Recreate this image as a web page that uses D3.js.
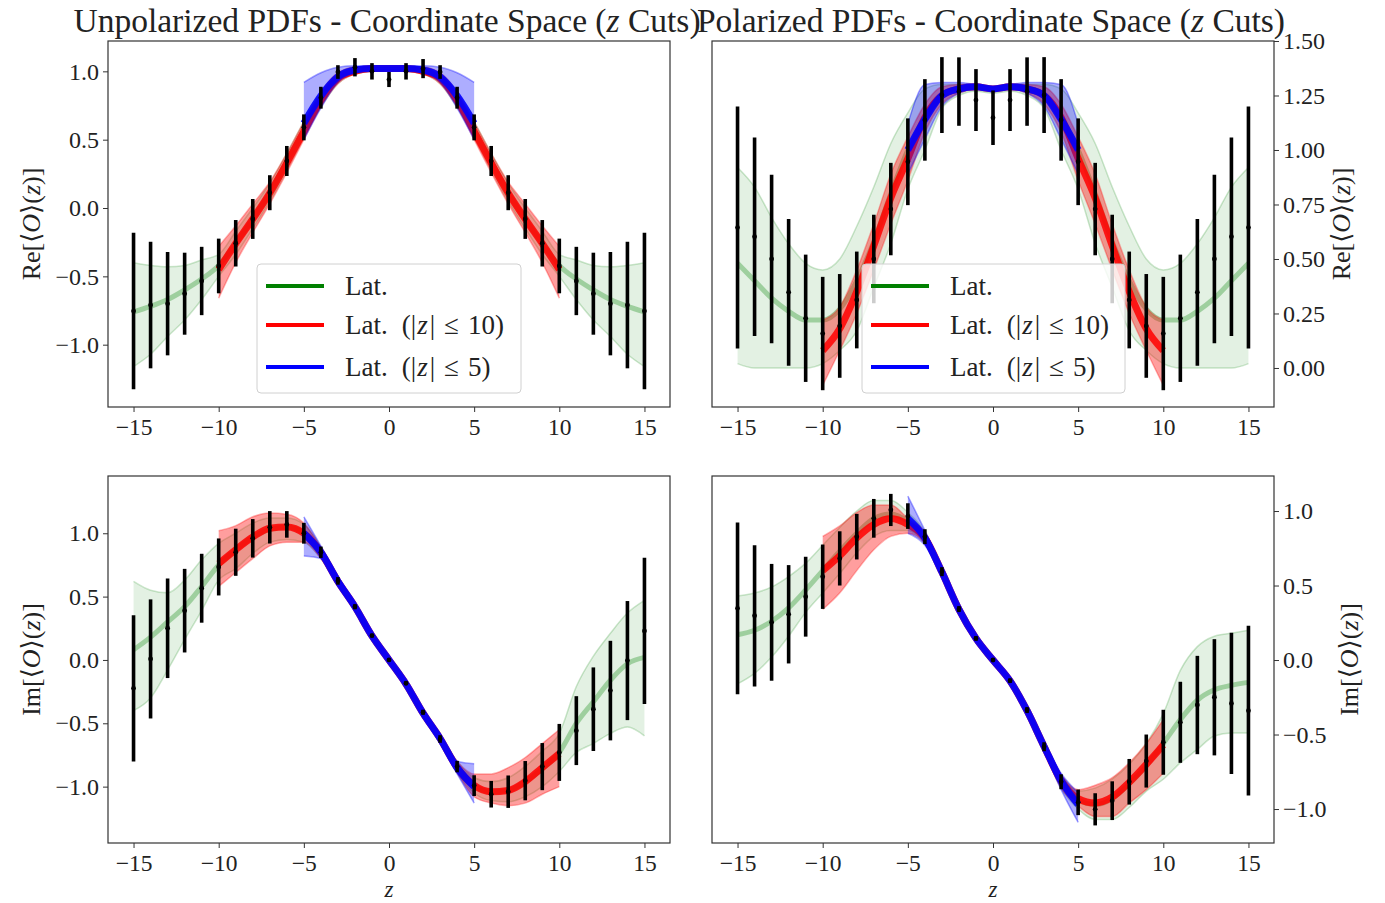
<!DOCTYPE html>
<html>
<head>
<meta charset="utf-8">
<script src="https://cdn.jsdelivr.net/npm/d3@7"></script>
<style>
  body { margin: 0; background: #fff; }
  svg { display: block; }
  text { font-family: "Liberation Serif", "DejaVu Serif", serif; fill: #222; }
</style>
</head>
<body>
<div id="chart"></div>
<script>
// z positions of the lattice points
const zVals = [-15, -14, -13, -12, -11, -10, -9, -8, -7, -6, -5, -4, -3, -2, -1, 0,
  1, 2, 3, 4, 5, 6, 7, 8, 9, 10, 11, 12, 13, 14, 15];
const xTicks = [-15, -10, -5, 0, 5, 10, 15];
const ticksUnit = [-1.0, -0.5, 0.0, 0.5, 1.0];
const ticksRePol = [0.0, 0.25, 0.5, 0.75, 1.0, 1.25, 1.5];

const titles = ['Unpolarized PDFs - Coordinate Space (', 'Polarized PDFs - Coordinate Space ('];
const legendNames = [['Lat.', ''], ['Lat.', '10'], ['Lat.', '5']];

// ---- Re, unpolarized: data points and errors
const reUnpolVal = [-0.754, -0.71, -0.70, -0.627, -0.534, -0.424, -0.258, -0.08, 0.112, 0.344, 0.59,
  0.807, 0.995, 1.03, 1.0, 0.94, 1.0, 1.02, 0.995, 0.807, 0.59, 0.344, 0.112, -0.08, -0.258,
  -0.424, -0.534, -0.627, -0.70, -0.71, -0.754];
const reUnpolErr = [0.573, 0.463, 0.378, 0.30, 0.25, 0.20, 0.17, 0.146, 0.128, 0.11, 0.095,
  0.08, 0.05, 0.067, 0.06, 0.055, 0.06, 0.07, 0.05, 0.08, 0.095, 0.11, 0.128, 0.146, 0.17,
  0.20, 0.25, 0.30, 0.378, 0.463, 0.573];
// bands: [low, middle, high] for each z
const reUnpolGreen = [[-1.16, -0.76, -0.40], [-1.07, -0.72, -0.42], [-0.94, -0.67, -0.43], [-0.82, -0.60, -0.42],
  [-0.67, -0.52, -0.38], [-0.50, -0.42, -0.34], [-0.34, -0.26, -0.17], [-0.15, -0.08, 0.0], [0.05, 0.11, 0.18],
  [0.28, 0.34, 0.40], [0.52, 0.57, 0.63], [0.74, 0.79, 0.84], [0.91, 0.95, 0.98], [0.98, 1.0, 1.03],
  [1.0, 1.02, 1.03], [1.0, 1.02, 1.03], [1.0, 1.02, 1.03], [0.98, 1.0, 1.03], [0.91, 0.95, 0.98],
  [0.74, 0.79, 0.84], [0.52, 0.57, 0.63], [0.28, 0.34, 0.40], [0.05, 0.11, 0.18], [-0.15, -0.08, 0.0],
  [-0.34, -0.26, -0.17], [-0.50, -0.42, -0.34], [-0.67, -0.52, -0.38], [-0.82, -0.60, -0.42],
  [-0.94, -0.67, -0.43], [-1.07, -0.72, -0.42], [-1.16, -0.76, -0.40]];
const reUnpolRed = [[-0.66, -0.45, -0.28], [-0.40, -0.26, -0.13], [-0.18, -0.08, 0.03], [0.03, 0.11, 0.19],
  [0.26, 0.33, 0.40], [0.50, 0.56, 0.63], [0.74, 0.79, 0.85], [0.91, 0.95, 0.99], [0.98, 1.0, 1.03],
  [1.0, 1.02, 1.03], [1.0, 1.02, 1.03], [1.0, 1.02, 1.03], [0.98, 1.0, 1.03], [0.91, 0.95, 0.99],
  [0.74, 0.79, 0.85], [0.50, 0.56, 0.63], [0.26, 0.33, 0.40], [0.03, 0.11, 0.19], [-0.18, -0.08, 0.03],
  [-0.40, -0.26, -0.13], [-0.66, -0.45, -0.28]];
const reUnpolBlue = [[0.50, 0.62, 0.92], [0.73, 0.82, 0.99], [0.92, 0.96, 1.03], [0.99, 1.01, 1.04],
  [1.01, 1.02, 1.03], [1.01, 1.02, 1.03], [1.01, 1.02, 1.03], [0.99, 1.01, 1.04], [0.92, 0.96, 1.03],
  [0.73, 0.82, 0.99], [0.50, 0.62, 0.92]];

// ---- Re, polarized
const rePolVal = [0.644, 0.602, 0.50, 0.347, 0.228, 0.158, 0.193, 0.312, 0.50, 0.729, 0.946,
  1.138, 1.252, 1.268, 1.229, 1.148, 1.229, 1.268, 1.252, 1.138, 0.946, 0.729, 0.50, 0.312, 0.193,
  0.158, 0.228, 0.347, 0.50, 0.602, 0.644];
const rePolErr = [0.555, 0.455, 0.387, 0.337, 0.292, 0.26, 0.238, 0.222, 0.203, 0.212, 0.199,
  0.187, 0.174, 0.157, 0.142, 0.125, 0.142, 0.157, 0.174, 0.187, 0.199, 0.212, 0.203, 0.222, 0.238,
  0.26, 0.292, 0.337, 0.387, 0.455, 0.555];
const rePolGreen = [[0.02, 0.48, 0.92], [0.0, 0.40, 0.83], [0.0, 0.32, 0.69], [0.0, 0.26, 0.57],
  [0.0, 0.22, 0.48], [0.02, 0.22, 0.45], [0.08, 0.27, 0.50], [0.17, 0.40, 0.65], [0.37, 0.58, 0.83],
  [0.57, 0.80, 1.03], [0.82, 1.00, 1.17], [1.00, 1.15, 1.28], [1.19, 1.25, 1.30], [1.25, 1.28, 1.30],
  [1.27, 1.29, 1.30], [1.26, 1.275, 1.29], [1.27, 1.29, 1.30], [1.25, 1.28, 1.30], [1.19, 1.25, 1.30],
  [1.00, 1.15, 1.28], [0.82, 1.00, 1.17], [0.57, 0.80, 1.03], [0.37, 0.58, 0.83], [0.17, 0.40, 0.65],
  [0.08, 0.27, 0.50], [0.02, 0.22, 0.45], [0.0, 0.22, 0.48], [0.0, 0.26, 0.57], [0.0, 0.32, 0.69],
  [0.0, 0.40, 0.83], [0.02, 0.48, 0.92]];
const rePolRed = [[-0.08, 0.08, 0.22], [0.08, 0.18, 0.28], [0.25, 0.35, 0.45], [0.45, 0.56, 0.66],
  [0.66, 0.78, 0.89], [0.86, 0.96, 1.06], [1.08, 1.15, 1.21], [1.21, 1.25, 1.29], [1.26, 1.28, 1.30],
  [1.28, 1.29, 1.30], [1.27, 1.28, 1.29], [1.28, 1.29, 1.30], [1.26, 1.28, 1.30], [1.21, 1.25, 1.29],
  [1.08, 1.15, 1.21], [0.86, 0.96, 1.06], [0.66, 0.78, 0.89], [0.45, 0.56, 0.66], [0.25, 0.35, 0.45],
  [0.08, 0.18, 0.28], [-0.08, 0.08, 0.22]];
const rePolBlue = [[0.89, 1.00, 1.12], [1.05, 1.14, 1.30], [1.20, 1.25, 1.31], [1.26, 1.28, 1.31],
  [1.28, 1.29, 1.30], [1.27, 1.28, 1.29], [1.28, 1.29, 1.30], [1.26, 1.28, 1.31], [1.20, 1.25, 1.31],
  [1.05, 1.14, 1.30], [0.89, 1.00, 1.12]];

// ---- Im, unpolarized
const imUnpolVal = [-0.224, 0.008, 0.25, 0.389, 0.566, 0.734, 0.85, 0.96, 1.047, 1.07, 1.0,
  0.85, 0.624, 0.42, 0.192, 0.0, -0.184, -0.413, -0.624, -0.842, -0.992, -1.06, -1.04, -0.953, -0.842,
  -0.73, -0.558, -0.389, -0.242, -0.005, 0.229];
const imUnpolErr = [0.577, 0.47, 0.393, 0.33, 0.272, 0.225, 0.186, 0.152, 0.128, 0.105, 0.082,
  0.045, 0.03, 0.02, 0.015, 0.01, 0.015, 0.02, 0.03, 0.045, 0.082, 0.105, 0.128, 0.155, 0.186,
  0.225, 0.272, 0.33, 0.393, 0.47, 0.577];
const imUnpolGreen = [[-0.40, 0.08, 0.62], [-0.30, 0.18, 0.55], [-0.08, 0.30, 0.53], [0.16, 0.42, 0.63],
  [0.39, 0.58, 0.79], [0.63, 0.75, 0.92], [0.72, 0.87, 1.0], [0.84, 0.97, 1.08], [0.93, 1.03, 1.12],
  [0.95, 1.05, 1.12], [0.93, 1.0, 1.07], [0.80, 0.85, 0.89], [0.59, 0.62, 0.65], [0.39, 0.42, 0.44],
  [0.17, 0.19, 0.21], [-0.02, 0.0, 0.02], [-0.21, -0.19, -0.17], [-0.44, -0.42, -0.39], [-0.65, -0.62, -0.59],
  [-0.89, -0.85, -0.80], [-1.05, -0.99, -0.93], [-1.11, -1.04, -0.96], [-1.12, -1.03, -0.93],
  [-1.08, -0.96, -0.84], [-1.0, -0.86, -0.72], [-0.88, -0.73, -0.58], [-0.73, -0.50, -0.21],
  [-0.66, -0.33, 0.03], [-0.58, -0.16, 0.21], [-0.53, -0.03, 0.37], [-0.60, 0.02, 0.47]];
const imUnpolRed = [[0.58, 0.76, 1.02], [0.69, 0.87, 1.06], [0.80, 0.97, 1.13], [0.90, 1.04, 1.16],
  [0.93, 1.05, 1.15], [0.93, 1.0, 1.08], [0.80, 0.85, 0.89], [0.59, 0.62, 0.65], [0.39, 0.42, 0.44],
  [0.17, 0.19, 0.21], [-0.02, 0.0, 0.02], [-0.21, -0.19, -0.17], [-0.44, -0.42, -0.39], [-0.65, -0.62, -0.59],
  [-0.89, -0.85, -0.80], [-1.08, -0.99, -0.90], [-1.13, -1.04, -0.90], [-1.15, -1.03, -0.85],
  [-1.13, -0.96, -0.77], [-1.06, -0.85, -0.66], [-1.0, -0.74, -0.55]];
const imUnpolBlue = [[0.82, 1.0, 1.13], [0.80, 0.85, 0.90], [0.59, 0.62, 0.66], [0.39, 0.42, 0.45],
  [0.17, 0.19, 0.21], [-0.02, 0.0, 0.02], [-0.21, -0.19, -0.17], [-0.45, -0.42, -0.39], [-0.66, -0.62, -0.59],
  [-0.90, -0.85, -0.80], [-1.13, -1.0, -0.82]];

// ---- Im, polarized
const imPolVal = [0.347, 0.297, 0.253, 0.307, 0.425, 0.559, 0.682, 0.828, 0.951, 1.007, 0.966,
  0.828, 0.593, 0.342, 0.145, 0.0, -0.139, -0.336, -0.582, -0.817, -0.955, -1.002, -0.944, -0.817, -0.678,
  -0.552, -0.418, -0.302, -0.25, -0.291, -0.34];
const imPolErr = [0.576, 0.474, 0.392, 0.33, 0.268, 0.216, 0.182, 0.153, 0.13, 0.108, 0.086,
  0.05, 0.03, 0.02, 0.015, 0.01, 0.015, 0.02, 0.03, 0.05, 0.086, 0.108, 0.13, 0.153, 0.178,
  0.218, 0.272, 0.33, 0.39, 0.474, 0.57];
const imPolGreen = [[-0.16, 0.17, 0.43], [-0.09, 0.20, 0.45], [0.02, 0.26, 0.49], [0.16, 0.35, 0.56],
  [0.32, 0.47, 0.65], [0.45, 0.60, 0.77], [0.58, 0.73, 0.89], [0.72, 0.85, 1.0], [0.83, 0.95, 1.07],
  [0.87, 0.98, 1.07], [0.87, 0.93, 0.99], [0.78, 0.82, 0.86], [0.56, 0.59, 0.62], [0.32, 0.34, 0.36],
  [0.13, 0.145, 0.16], [-0.01, 0.0, 0.01], [-0.155, -0.14, -0.125], [-0.36, -0.34, -0.32], [-0.61, -0.58, -0.55],
  [-0.86, -0.81, -0.77], [-1.0, -0.94, -0.88], [-1.07, -0.97, -0.86], [-1.07, -0.93, -0.80],
  [-0.99, -0.83, -0.70], [-0.88, -0.71, -0.56], [-0.80, -0.56, -0.36], [-0.69, -0.40, -0.07],
  [-0.60, -0.27, 0.09], [-0.51, -0.20, 0.16], [-0.49, -0.17, 0.18], [-0.49, -0.15, 0.20]];
const imPolRed = [[0.34, 0.60, 0.83], [0.45, 0.70, 0.90], [0.60, 0.82, 0.99], [0.74, 0.91, 1.04],
  [0.83, 0.95, 1.04], [0.85, 0.91, 0.95], [0.78, 0.82, 0.86], [0.56, 0.59, 0.62], [0.32, 0.34, 0.36],
  [0.13, 0.145, 0.16], [-0.01, 0.0, 0.01], [-0.155, -0.14, -0.125], [-0.36, -0.34, -0.32], [-0.61, -0.58, -0.55],
  [-0.86, -0.81, -0.77], [-0.98, -0.93, -0.87], [-1.05, -0.96, -0.84], [-1.05, -0.92, -0.79],
  [-0.96, -0.82, -0.69], [-0.87, -0.70, -0.56], [-0.76, -0.57, -0.40]];
const imPolBlue = [[0.85, 0.95, 1.10], [0.77, 0.82, 0.87], [0.56, 0.59, 0.62], [0.32, 0.34, 0.36],
  [0.13, 0.145, 0.16], [-0.01, 0.0, 0.01], [-0.155, -0.14, -0.125], [-0.36, -0.34, -0.32], [-0.61, -0.58, -0.55],
  [-0.87, -0.81, -0.76], [-1.09, -0.97, -0.89]];

const colors = { green: '#008000', red: '#ff0000', blue: '#0000ff' };

const W = 1385, H = 903;
const svg = d3.select('#chart').append('svg').attr('width', W).attr('height', H);

const panels = [
  { x0: 108, x1: 670, y0: 41, y1: 407, yDomain: [-1.456, 1.222], yTicks: ticksUnit, fmt: '.1f', side: 'left',
    part: 'Re', val: reUnpolVal, err: reUnpolErr, bands: [reUnpolGreen, reUnpolRed, reUnpolBlue],
    legend: { x: 257, y: 264, w: 264, h: 129 }, labelX: 31 },
  { x0: 712, x1: 1274, y0: 41, y1: 407, yDomain: [-0.179, 1.5], yTicks: ticksRePol, fmt: '.2f', side: 'right',
    part: 'Re', val: rePolVal, err: rePolErr, bands: [rePolGreen, rePolRed, rePolBlue],
    legend: { x: 862, y: 264, w: 263, h: 129 }, labelX: 1341 },
  { x0: 108, x1: 670, y0: 476, y1: 843, yDomain: [-1.445, 1.452], yTicks: ticksUnit, fmt: '.1f', side: 'left',
    part: 'Im', val: imUnpolVal, err: imUnpolErr, bands: [imUnpolGreen, imUnpolRed, imUnpolBlue], labelX: 31 },
  { x0: 712, x1: 1274, y0: 476, y1: 843, yDomain: [-1.228, 1.235], yTicks: ticksUnit, fmt: '.1f', side: 'right',
    part: 'Im', val: imPolVal, err: imPolErr, bands: [imPolGreen, imPolRed, imPolBlue], labelX: 1349 }
];

// band styles: green is the sparse full-range fit, red |z|<=10, blue |z|<=5
const bandStyle = [
  { color: colors.green, cut: 15, area: 0.11, edge: 0.2, core: 0.3, coreW: 5 },
  { color: colors.red, cut: 10, area: 0.38, edge: 0.3, core: 0.85, coreW: 7 },
  { color: colors.blue, cut: 5, area: 0.32, edge: 0.35, core: 0.9, coreW: 7 }
];

const addMath = (sel, parts) => {
  parts.forEach(([t, italic]) => sel.append('tspan').text(t).attr('font-style', italic ? 'italic' : null));
};

panels.forEach((p, pi) => {
  const x = d3.scaleLinear().domain([-16.5, 16.5]).range([p.x0, p.x1]);
  const y = d3.scaleLinear().domain(p.yDomain).range([p.y1, p.y0]);
  const g = svg.append('g');

  // Draw bands
  p.bands.forEach((band, bi) => {
    const s = bandStyle[bi];
    const zs = zVals.filter((z) => Math.abs(z) <= s.cut);
    const rows = band.map((r, i) => ({ z: zs[i], lo: r[0], mid: r[1], hi: r[2] }));
    const bg = g.append('g');
    bg.append('path')
      .datum(rows)
      .attr('fill', s.color)
      .attr('fill-opacity', s.area)
      .attr('d', d3.area().x((d) => x(d.z)).y0((d) => y(d.lo)).y1((d) => y(d.hi)).curve(d3.curveMonotoneX));
    ['lo', 'hi'].forEach((k) => {
      bg.append('path')
        .datum(rows)
        .attr('fill', 'none')
        .attr('stroke', s.color)
        .attr('stroke-opacity', s.edge)
        .attr('stroke-width', 1.5)
        .attr('d', d3.line().x((d) => x(d.z)).y((d) => y(d[k])).curve(d3.curveMonotoneX));
    });
    bg.append('path')
      .datum(rows)
      .attr('fill', 'none')
      .attr('stroke', s.color)
      .attr('stroke-opacity', s.core)
      .attr('stroke-width', s.coreW)
      .attr('d', d3.line().x((d) => x(d.z)).y((d) => y(d.mid)).curve(d3.curveMonotoneX));
  });

  // Error bars
  const pts = zVals.map((z, i) => ({ z, v: p.val[i], e: p.err[i] }));
  g.append('g')
    .selectAll('line')
    .data(pts)
    .join('line')
    .attr('x1', (d) => x(d.z))
    .attr('x2', (d) => x(d.z))
    .attr('y1', (d) => y(d.v - d.e))
    .attr('y2', (d) => y(d.v + d.e))
    .attr('stroke', '#000')
    .attr('stroke-width', 3.6);
  g.append('g')
    .selectAll('circle')
    .data(pts)
    .join('circle')
    .attr('cx', (d) => x(d.z))
    .attr('cy', (d) => y(d.v))
    .attr('r', 2.4)
    .attr('fill', '#000');

  // Frame
  g.append('rect')
    .attr('x', p.x0).attr('y', p.y0)
    .attr('width', p.x1 - p.x0).attr('height', p.y1 - p.y0)
    .attr('fill', 'none').attr('stroke', '#333').attr('stroke-width', 1.2);

  // X axis
  g.append('g')
    .attr('transform', `translate(0,${p.y1})`)
    .call(d3.axisBottom(x).tickValues(xTicks).tickSize(5).tickPadding(6).tickFormat(d3.format('d')))
    .call((a) => a.select('.domain').remove())
    .call((a) => a.selectAll('.tick line').attr('stroke', '#333'))
    .call((a) => a.selectAll('.tick text').attr('font-size', 23.5).attr('fill', '#222'));

  // Y axis
  const yAxis = p.side === 'left' ? d3.axisLeft(y) : d3.axisRight(y);
  g.append('g')
    .attr('transform', `translate(${p.side === 'left' ? p.x0 : p.x1},0)`)
    .call(yAxis.tickValues(p.yTicks).tickSize(5).tickPadding(4).tickFormat(d3.format(p.fmt)))
    .call((a) => a.select('.domain').remove())
    .call((a) => a.selectAll('.tick line').attr('stroke', '#333'))
    .call((a) => a.selectAll('.tick text').attr('font-size', 24).attr('fill', '#222'));

  // Y label
  const yl = g.append('text')
    .attr('transform', `translate(${p.labelX},${(p.y0 + p.y1) / 2}) rotate(-90)`)
    .attr('text-anchor', 'middle')
    .attr('dominant-baseline', 'central')
    .attr('font-size', 26);
  addMath(yl, [[p.part + '[\u27E8', 0], ['O', 1], ['\u27E9(', 0], ['z', 1], [')]', 0]]);

  // X label on bottom row
  if (pi >= 2) {
    g.append('text')
      .attr('x', x(0)).attr('y', 897)
      .attr('text-anchor', 'middle')
      .attr('font-size', 23)
      .attr('font-style', 'italic')
      .text('z');
  }

  // Title on top row
  if (pi < 2) {
    const t = g.append('text')
      .attr('x', x(0) - 2).attr('y', 32)
      .attr('text-anchor', 'middle')
      .attr('font-size', 33.5);
    addMath(t, [[titles[pi], 0], ['z', 1], [' Cuts)', 0]]);
  }

  // Legend
  if (p.legend) {
    const L = p.legend;
    const lg = g.append('g').attr('transform', `translate(${L.x},${L.y})`);
    lg.append('rect')
      .attr('width', L.w).attr('height', L.h).attr('rx', 4)
      .attr('fill', '#fff').attr('fill-opacity', 0.8)
      .attr('stroke', '#d0d0d0').attr('stroke-width', 1);
    const rowsY = [22, 61, 103];
    legendNames.forEach(([name, cut], i) => {
      lg.append('line')
        .attr('x1', 9).attr('x2', 67)
        .attr('y1', rowsY[i]).attr('y2', rowsY[i])
        .attr('stroke', bandStyle[i].color).attr('stroke-width', 4);
      const tx = lg.append('text')
        .attr('x', 88).attr('y', rowsY[i] + 9)
        .attr('font-size', 27);
      tx.append('tspan').text(name);
      if (cut) {
        tx.append('tspan').attr('dx', 14).text('(|');
        tx.append('tspan').attr('font-style', 'italic').attr('dx', 1).text('z');
        tx.append('tspan').attr('dx', 2).text('|');
        tx.append('tspan').attr('dx', 9).text('\u2264');
        tx.append('tspan').attr('dx', 9).text(cut + ')');
      }
    });
  }
});
</script>
</body>
</html>
